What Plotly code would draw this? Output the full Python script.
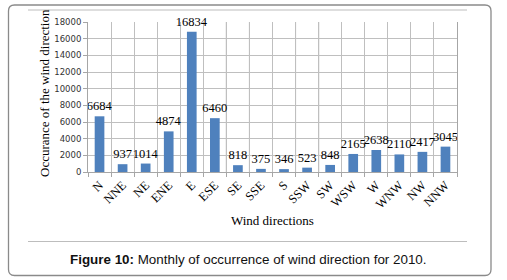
import plotly.graph_objects as go

categories = ["N", "NNE", "NE", "ENE", "E", "ESE", "SE", "SSE", "S", "SSW",
              "SW", "WSW", "W", "WNW", "NW", "NNW"]
occurrences = [6684, 937, 1014, 4874, 16834, 6460, 818, 375, 346, 523,
               848, 2165, 2638, 2110, 2417, 3045]
y_ticks = [0, 2000, 4000, 6000, 8000, 10000, 12000, 14000, 16000, 18000]
dark_after = ["ESE", "SE", "SSE", "S", "SSW"]

W, H = 507, 280
L, R, T, B = 88, 50, 22, 108
PW, PH = W - L - R, H - T - B


def px(x):
    return (x - L) / PW


def py(y):
    return (H - B - y) / PH


fig = go.Figure()
fig.add_trace(go.Bar(
    x=categories, y=occurrences,
    marker=dict(color="#4F81BD", line=dict(width=0)),
    text=[str(v) for v in occurrences], textposition="outside",
    constraintext="none",
    textfont=dict(family="Liberation Serif", size=12.5, color="#000"),
    cliponaxis=False,
))

shapes = []
for c in dark_after:
    xb = categories.index(c) + 0.5
    shapes.append(dict(type="line", xref="x", yref="paper", x0=xb, x1=xb,
                       y0=0, y1=1, line=dict(color="#808080", width=1),
                       layer="between"))

# rounded frame
x0, x1, y0, y1, r = 8.5, 491, 5, 275.5, 6
rx, ry = r / PW, r / PH
X0, X1, Y0, Y1 = px(x0), px(x1), py(y0), py(y1)
path = (f"M {X0+rx},{Y0} L {X1-rx},{Y0} Q {X1},{Y0} {X1},{Y0-ry} "
        f"L {X1},{Y1+ry} Q {X1},{Y1} {X1-rx},{Y1} "
        f"L {X0+rx},{Y1} Q {X0},{Y1} {X0},{Y1+ry} "
        f"L {X0},{Y0-ry} Q {X0},{Y0} {X0+rx},{Y0} Z")
shapes.append(dict(type="path", xref="paper", yref="paper", path=path,
                   line=dict(color="#8a8a8a", width=1.3)))
for yy in (10, 241.5):
    shapes.append(dict(type="line", xref="paper", yref="paper",
                       x0=px(28), x1=px(467), y0=py(yy), y1=py(yy),
                       line=dict(color="#bdbdbd", width=1)))

annotations = [
    dict(text="Occurance of the wind direction", xref="paper", yref="paper",
         x=px(44), y=py(93), textangle=-90, showarrow=False,
         xanchor="center", yanchor="middle",
         font=dict(family="Liberation Serif", size=13, color="#000")),
    dict(text="Wind directions", xref="paper", yref="paper",
         x=px(272), y=py(220), showarrow=False,
         xanchor="center", yanchor="middle",
         font=dict(family="Liberation Serif", size=13, color="#000")),
    dict(text="<b>Figure 10:</b> Monthly of occurrence of wind direction for 2010.",
         xref="paper", yref="paper", x=px(248), y=py(259.5), showarrow=False,
         xanchor="center", yanchor="middle",
         font=dict(family="Liberation Sans", size=13.4, color="#111")),
]

fig.update_layout(
    width=W, height=H,
    margin=dict(l=L, r=R, t=T, b=B, pad=0, autoexpand=False),
    paper_bgcolor="white", plot_bgcolor="white",
    showlegend=False, bargap=0.58,
    shapes=shapes, annotations=annotations,
    xaxis=dict(type="category", tickson="boundaries", showgrid=True,
               automargin=False,
               gridcolor="#bfbfbf", gridwidth=1, showline=True,
               linecolor="#a6a6a6", linewidth=1, ticks="outside", ticklen=4,
               tickcolor="#a6a6a6", tickangle=-45, range=[-0.5, 15.5],
               tickfont=dict(family="Liberation Serif", size=12.5, color="#000")),
    yaxis=dict(range=[0, 18000], tickvals=y_ticks,
               ticktext=[str(v) for v in y_ticks], showgrid=True,
               automargin=False,
               gridcolor="#bfbfbf", gridwidth=1, showline=True, mirror=True,
               linecolor="#a6a6a6", linewidth=1, ticks="outside", ticklen=4,
               tickcolor="#a6a6a6", zeroline=False,
               tickfont=dict(family="DejaVu Sans", size=8.5, color="#333")),
)

fig.write_html("out.html", config={"displayModeBar": False},
               post_script="document.body.style.margin='0';"
                           "document.body.style.overflow='hidden';")
